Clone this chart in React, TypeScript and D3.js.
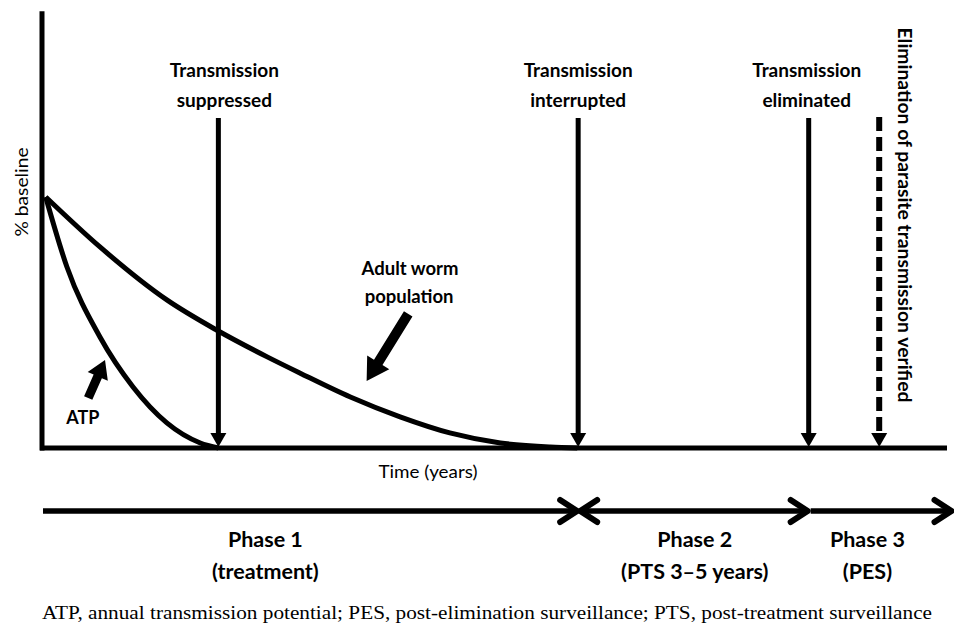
import * as d3 from 'd3';

// time runs on an arbitrary 0-100 scale, effect as % of baseline
const atpTime = [0.3, 2.65, 6.3, 9.96, 13.7, 17.4, 19.4];
const atpPct = [100, 72.1, 44.2, 24.3, 10.0, 2.0, 0];

const wormTime = [0.3, 6.3, 13.7, 19.2, 24.8, 28.4, 34.0, 39.5, 45.0, 50.6, 56.1, 59.1];
const wormPct = [100, 80.1, 59.0, 47.0, 36.3, 29.9, 20.3, 12.4, 6.0, 2.0, 0.4, 0];

const eventTimes = [19.4, 59.2, 84.7];
const eventLabels = [
  ['Transmission', 'suppressed'],
  ['Transmission', 'interrupted'],
  ['Transmission', 'eliminated'],
];
const verifiedTime = 92.5;
const verifiedLabel = 'Elimination of parasite transmission verified';

const phaseBounds = [0, 59.2, 84.7, 100.5];
const phaseLabels = [
  ['Phase 1', '(treatment)'],
  ['Phase 2', '(PTS 3\u20135 years)'],
  ['Phase 3', '(PES)'],
];

const caption =
  'ATP, annual transmission potential; PES, post-elimination surveillance; PTS, post-treatment surveillance';

const W = 954;
const H = 627;
const sans = "Lato, 'Open Sans', sans-serif";

const x = d3.scaleLinear().domain([0, 100]).range([43, 947]);
const y = d3.scaleLinear().domain([0, 100]).range([448, 197]);

const line = d3
  .line<[number, number]>()
  .x((d) => x(d[0]))
  .y((d) => y(d[1]))
  .curve(d3.curveMonotoneX);

// block arrow polygon from tail to tip
function blockArrow(x0: number, y0: number, x1: number, y1: number, shaft: number, head: number, headLen: number) {
  const dx = x1 - x0;
  const dy = y1 - y0;
  const len = Math.hypot(dx, dy);
  const ux = dx / len;
  const uy = dy / len;
  const nx = -uy;
  const ny = ux;
  const bx = x1 - ux * headLen;
  const by = y1 - uy * headLen;
  const pts = [
    [x0 + nx * shaft, y0 + ny * shaft],
    [bx + nx * shaft, by + ny * shaft],
    [bx + nx * head, by + ny * head],
    [x1, y1],
    [bx - nx * head, by - ny * head],
    [bx - nx * shaft, by - ny * shaft],
    [x0 - nx * shaft, y0 - ny * shaft],
  ];
  return 'M' + pts.map((p) => p.join(',')).join('L') + 'Z';
}

function chevron(tx: number, ty: number, dir: number) {
  return `M${tx - dir * 17},${ty - 11}L${tx},${ty}L${tx - dir * 17},${ty + 11}`;
}

export default function App() {
  const atp = atpTime.map((t, i) => [t, atpPct[i]] as [number, number]);
  const worm = wormTime.map((t, i) => [t, wormPct[i]] as [number, number]);
  const base = y(0);
  const arrowTop = 118;
  const phaseY = 511;
  const labelDx = [6, 0, -2];
  const phaseLabelT = [24.6, 72.1, 91.2];

  return (
    <svg width={W} height={H} style={{ position: 'absolute', left: 0, top: 0, background: '#fff' }}>
      {/* axes */}
      <line x1={x(0) - 1} x2={x(0) - 1} y1={y(174)} y2={base + 2.5} stroke="#000" strokeWidth={5} />
      <line x1={x(0) - 3} x2={x(100)} y1={base} y2={base} stroke="#000" strokeWidth={5} />
      <text
        transform={`translate(21,${y(102)}) rotate(-90)`}
        textAnchor="middle"
        dominantBaseline="central"
        fontFamily={sans}
        fontSize={17.5}
        textLength={89}
        lengthAdjust="spacingAndGlyphs"
      >
        % baseline
      </text>
      <text
        x={428}
        y={478}
        textAnchor="middle"
        fontFamily={sans}
        fontSize={17.5}
        textLength={99}
        lengthAdjust="spacingAndGlyphs"
      >
        Time (years)
      </text>

      {/* curves */}
      <path d={line(worm) ?? ''} fill="none" stroke="#000" strokeWidth={5} />
      <path d={line(atp) ?? ''} fill="none" stroke="#000" strokeWidth={5} />

      {/* event arrows */}
      {eventTimes.map((t, i) => (
        <g key={i}>
          <line x1={x(t)} x2={x(t)} y1={arrowTop} y2={base - 12} stroke="#000" strokeWidth={5} />
          <path d={`M${x(t) - 8},${base - 15}L${x(t) + 8},${base - 15}L${x(t)},${base - 1}Z`} fill="#000" />
          {eventLabels[i].map((s, j) => (
            <text
              key={j}
              x={x(t) + labelDx[i]}
              y={77 + j * 30}
              textAnchor="middle"
              fontFamily={sans}
              fontWeight="bold"
              fontSize={19}
            >
              {s}
            </text>
          ))}
        </g>
      ))}
      <line
        x1={x(verifiedTime)}
        x2={x(verifiedTime)}
        y1={arrowTop - 1}
        y2={base - 12}
        stroke="#000"
        strokeWidth={6}
        strokeDasharray="14 6"
      />
      <path
        d={`M${x(verifiedTime) - 8},${base - 15}L${x(verifiedTime) + 8},${base - 15}L${x(verifiedTime)},${base - 1}Z`}
        fill="#000"
      />
      <text
        transform={`translate(905,215) rotate(90)`}
        textAnchor="middle"
        dominantBaseline="central"
        fontFamily={sans}
        fontWeight="bold"
        fontSize={18.5}
        textLength={375}
        lengthAdjust="spacingAndGlyphs"
      >
        {verifiedLabel}
      </text>

      {/* annotations */}
      <path d={blockArrow(x(40.4), y(53.4), x(35.8), y(26.7), 5, 13, 22)} fill="#000" />
      <text x={x(40.6)} y={y(71.3) + 6} textAnchor="middle" fontFamily={sans} fontWeight="bold" fontSize={18.5}>
        Adult worm
      </text>
      <text x={x(40.5)} y={y(60.2) + 6} textAnchor="middle" fontFamily={sans} fontWeight="bold" fontSize={18.5}>
        population
      </text>
      <path d={blockArrow(x(5.0), y(19.9), x(6.86), y(35.1), 4.5, 11, 18)} fill="#000" />
      <text x={x(4.4)} y={y(12) + 6} textAnchor="middle" fontFamily={sans} fontWeight="bold" fontSize={18}>
        ATP
      </text>

      {/* phase arrows */}
      {phaseLabels.map((lab, i) => {
        const x0 = x(phaseBounds[i]) + (i === 0 ? 0 : 2);
        const x1 = x(phaseBounds[i + 1]) - (i === phaseLabels.length - 1 ? 0 : 1);
        return (
          <g key={i}>
            <line x1={x0} x2={x1} y1={phaseY} y2={phaseY} stroke="#000" strokeWidth={5.5} />
            <path
              d={chevron(x1, phaseY, 1)}
              fill="none"
              stroke="#000"
              strokeWidth={6}
              strokeLinecap="round"
              strokeLinejoin="round"
            />
            {i === 1 && (
              <path
                d={chevron(x0, phaseY, -1)}
                fill="none"
                stroke="#000"
                strokeWidth={6}
                strokeLinecap="round"
                strokeLinejoin="round"
              />
            )}
            {lab.map((s, j) => (
              <text
                key={j}
                x={x(phaseLabelT[i])}
                y={547 + j * 32}
                textAnchor="middle"
                fontFamily={sans}
                fontWeight="bold"
                fontSize={21.5}
              >
                {s}
              </text>
            ))}
          </g>
        );
      })}

      <text
        x={42}
        y={619}
        fontFamily="'Times New Roman', 'Liberation Serif', serif"
        fontSize={18.5}
        textLength={890}
        lengthAdjust="spacingAndGlyphs"
      >
        {caption}
      </text>
    </svg>
  );
}
